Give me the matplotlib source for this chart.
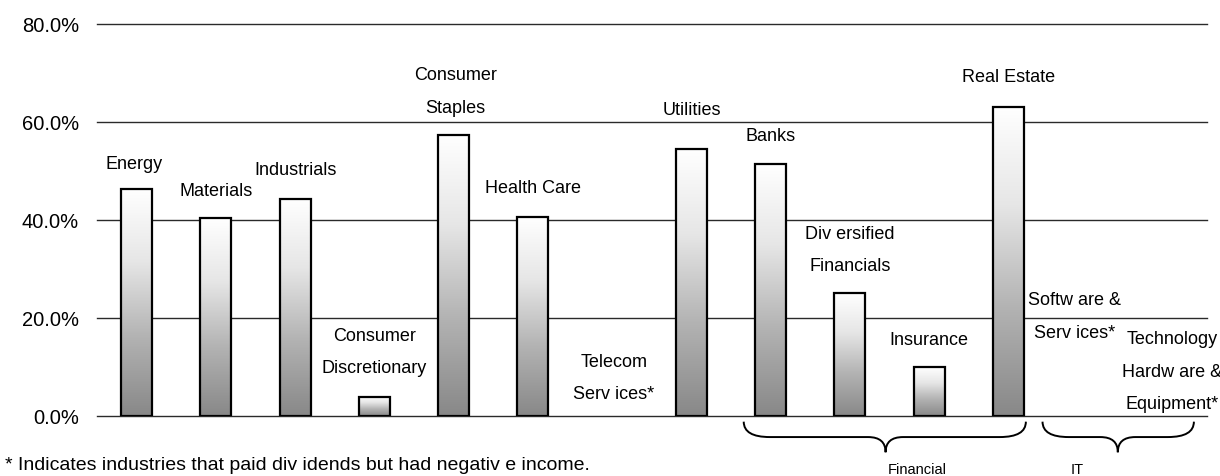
import numpy as np
import matplotlib
matplotlib.use("Agg")
import matplotlib.pyplot as plt
from matplotlib import font_manager
from matplotlib.colors import LinearSegmentedColormap
from matplotlib.path import Path
from matplotlib.patches import PathPatch

# ---------------- data ----------------
categories = ["Energy", "Materials", "Industrials", "Consumer\nDiscretionary",
              "Consumer\nStaples", "Health Care", "Telecom\nServ ices*", "Utilities",
              "Banks", "Div ersified\nFinancials", "Insurance", "Real Estate",
              "Softw are &\nServ ices*", "Technology\nHardw are &\nEquipment*"]
payout = [46.3, 40.4, 44.3, 3.9, 57.3, 40.7, 0.0, 54.4, 51.4, 25.1, 9.9, 63.1, 0.0, 0.0]
ytick_values = [0, 20, 40, 60, 80]
ytick_labels = ["0.0%", "20.0%", "40.0%", "60.0%", "80.0%"]
group_names = ["Financial", "IT"]
footnote = "* Indicates industries that paid div idends but had negativ e income."

# ---------------- layout ----------------
label_gap = [5.9, 6.1, 6.5, 6.5, 6.3, 6.6, 5.1, 8.7, 6.5, 6.2, 6.2, 6.7, 17.7, 3.1]
label_dx = [-0.03, 0.0, 0.0, 0.0, 0.02, 0.0, 0.02, 0.0, 0.0, 0.0, 0.0, 0.0, -0.17, 0.06]
brace_spans = [(7.66, 11.22, 9.45), (11.43, 13.34, 12.38)]
group_label_x = [9.85, 11.87]

names = {f.name for f in font_manager.fontManager.ttflist}
narrow = "Liberation Sans Narrow" if "Liberation Sans Narrow" in names else "Liberation Sans"
regular = "Liberation Sans"
lab_size = 15 if narrow == "Liberation Sans Narrow" else 13

fig = plt.figure(figsize=(12.2, 4.77), dpi=100)
ax = fig.add_axes([0.0795, 0.1258, 0.9095, 0.8218])

x = np.arange(len(categories))
vals = np.array(payout)

cmap = LinearSegmentedColormap.from_list(
    "bargrad", [(0.0, "#888888"), (0.35, "#b3b3b3"), (0.68, "#e6e6e6"), (1.0, "#ffffff")])
grad = np.linspace(0, 1, 256).reshape(-1, 1)

mask = vals > 0
bars = ax.bar(x[mask], vals[mask], width=0.39, facecolor="none",
              edgecolor="black", linewidth=1.6, zorder=3)
for b in bars:
    x0, w, h = b.get_x(), b.get_width(), b.get_height()
    ax.imshow(grad, cmap=cmap, origin="lower", aspect="auto",
              extent=(x0, x0 + w, 0, h), zorder=2, interpolation="bilinear")

for yv in ytick_values:
    ax.axhline(yv, color="#2a2a2a", linewidth=1.0, zorder=1, clip_on=False)

ax.set_xlim(-0.5, len(categories) - 0.5)
ax.set_ylim(0, 80)
for s in ax.spines.values():
    s.set_visible(False)
ax.set_xticks([])
ax.set_yticks(ytick_values)
ax.set_yticklabels(ytick_labels, fontsize=14.5, family=regular)
ax.tick_params(axis="y", length=0, pad=13)

# category labels
line_step = 6.6
cap_mid = 1.5
for i, (lab, v) in enumerate(zip(categories, payout)):
    lines = lab.split("\n")
    for k, ln in enumerate(reversed(lines)):
        ax.text(i + label_dx[i], v + label_gap[i] - cap_mid + k * line_step, ln,
                ha="center", va="baseline", fontsize=lab_size, family=narrow,
                clip_on=False)

# braces
def brace(x0, x1, xm, ytop=-1.16, ymid=-4.3, ytip=-7.4, r=0.33, r2=0.22):
    verts = [(x0, ytop), (x0, ymid), (x0 + r, ymid),
             (xm - r2, ymid),
             (xm, ymid), (xm, ytip),
             (xm, ymid), (xm + r2, ymid),
             (x1 - r, ymid),
             (x1, ymid), (x1, ytop)]
    codes = [Path.MOVETO, Path.CURVE3, Path.CURVE3, Path.LINETO,
             Path.CURVE3, Path.CURVE3, Path.CURVE3, Path.CURVE3,
             Path.LINETO, Path.CURVE3, Path.CURVE3]
    return PathPatch(Path(verts, codes), facecolor="none", edgecolor="black",
                     linewidth=1.4, clip_on=False)

for (x0, x1, xm), gx, gname in zip(brace_spans, group_label_x, group_names):
    ax.add_patch(brace(x0, x1, xm))
    ax.text(gx, -10.8, gname, ha="center", va="center", fontsize=10.5,
            family=regular, clip_on=False)

fig.text(5 / 1220, 1 - 466 / 477, footnote, ha="left", va="center",
         fontsize=14 if narrow == regular else 15, family=narrow)

fig.savefig("out.png", dpi=100)
